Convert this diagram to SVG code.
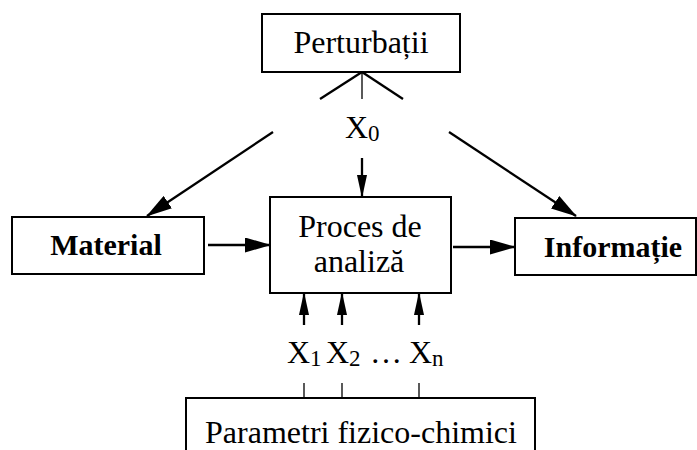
<svg xmlns="http://www.w3.org/2000/svg" width="697" height="450" viewBox="0 0 697 450">
<style>
.box{fill:#fff;stroke:#000;stroke-width:2}
.t{font-family:"Liberation Serif","Times New Roman",serif;font-size:32px;fill:#000}
.b{font-family:"Liberation Serif","Times New Roman",serif;font-size:30px;font-weight:bold;fill:#000}
.ln{stroke:#000;stroke-width:2.3;fill:none}
.thin{stroke:#000;stroke-width:1.3;fill:none}
.sub{font-size:23px}
</style>
<defs>
<marker id="big" markerUnits="userSpaceOnUse" markerWidth="26" markerHeight="15" viewBox="0 0 26 15" refX="25" refY="7.5" orient="auto">
<path d="M0,0 L26,7.5 L0,15 z" fill="#000"/>
</marker>
<marker id="small" markerUnits="userSpaceOnUse" markerWidth="23" markerHeight="10" viewBox="0 0 23 10" refX="22" refY="5" orient="auto">
<path d="M0,0 L23,5 L0,10 z" fill="#000"/>
</marker>
</defs>
<rect width="697" height="450" fill="#fff"/>
<g id="connectors">
<line class="ln" x1="362" y1="72" x2="320" y2="99"/>
<line class="ln" x1="362" y1="72" x2="403" y2="99"/>
<line class="thin" x1="362" y1="72" x2="362" y2="99"/>
<line class="ln" x1="273" y1="132" x2="147" y2="216" marker-end="url(#big)"/>
<line class="ln" x1="449" y1="132" x2="576" y2="216" marker-end="url(#big)"/>
<line class="ln" x1="362" y1="158" x2="362" y2="197" marker-end="url(#small)"/>
<line class="ln" x1="208" y1="245" x2="270" y2="245" marker-end="url(#big)"/>
<line class="ln" x1="453" y1="247" x2="515" y2="247" marker-end="url(#big)"/>
<line class="ln" x1="304" y1="325" x2="304" y2="293" marker-end="url(#small)"/>
<line class="ln" x1="342" y1="325" x2="342" y2="293" marker-end="url(#small)"/>
<line class="ln" x1="419" y1="325" x2="419" y2="293" marker-end="url(#small)"/>
<line class="thin" x1="304" y1="383" x2="304" y2="398"/>
<line class="thin" x1="342" y1="383" x2="342" y2="398"/>
<line class="thin" x1="419" y1="383" x2="419" y2="398"/>
<text class="t" x="345" y="138">X<tspan class="sub" dy="2.5">0</tspan></text>
<text class="t" y="363"><tspan x="287">X</tspan><tspan class="sub" x="310" dy="2.5">1</tspan><tspan x="326" dy="-2.5">X</tspan><tspan class="sub" x="349" dy="2.5">2</tspan><tspan x="370" dy="-2.5">…</tspan><tspan x="409">X</tspan><tspan class="sub" x="432" dy="2.5">n</tspan></text>
</g>
<g id="perturbatii">
<rect class="box" x="262" y="14" width="198" height="58"/>
<text class="t" x="361" y="53" text-anchor="middle">Perturbații</text>
</g>
<g id="material">
<rect class="box" x="12" y="217" width="192" height="57"/>
<text class="b" x="106" y="255" text-anchor="middle">Material</text>
</g>
<g id="proces">
<rect class="box" x="270" y="197" width="181" height="96"/>
<text class="t" x="360" y="237" text-anchor="middle">Proces de</text>
<text class="t" x="359" y="272" text-anchor="middle">analiză</text>
</g>
<g id="informatie">
<rect class="box" x="515" y="218" width="181" height="57"/>
<text class="b" x="613" y="257" text-anchor="middle">Informație</text>
</g>
<g id="parametri">
<rect class="box" x="186" y="398" width="349" height="60"/>
<text class="t" x="361" y="443" text-anchor="middle">Parametri fizico-chimici</text>
</g>
</svg>
